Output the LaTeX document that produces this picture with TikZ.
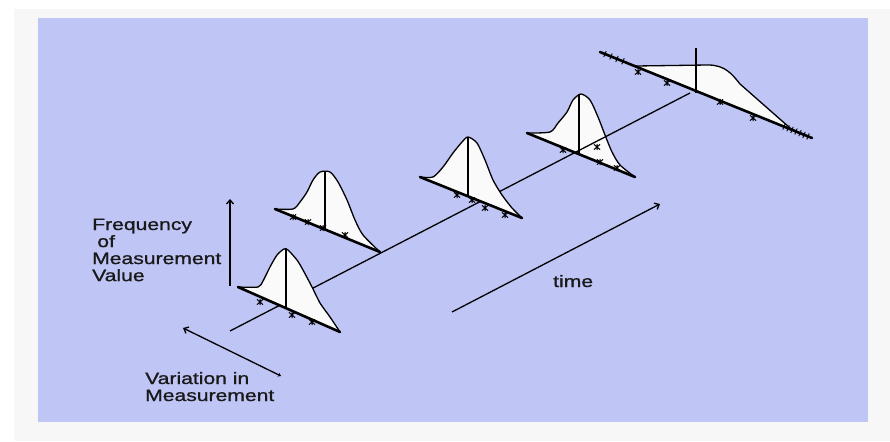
\documentclass[tikz,border=0pt]{standalone}
\usepackage{fontspec}
\usepackage{graphicx}
\setmainfont{Liberation Sans}
\newfontfamily\lblfont[FakeBold=0.9]{Liberation Sans}
\usetikzlibrary{arrows.meta}
\definecolor{bgblue}{RGB}{191,197,245}
\definecolor{outergray}{RGB}{247,247,247}
\definecolor{distfill}{RGB}{250,250,250}
\tikzset{
  curve/.style={draw=black, line width=1.3pt, line join=round},
  basel/.style={draw=black, line width=2.6pt, line cap=round},
  vline/.style={draw=black, line width=1.2pt},
  axisline/.style={draw=black, line width=1.3pt},
  arr/.style={draw=black, line width=1.3pt, -{Straight Barb[length=4pt,width=7pt]}},
  tickl/.style={draw=black, line width=0.9pt},
  lbl/.style={font=\lblfont\fontsize{16.5}{17}\selectfont, inner sep=0pt, anchor=base west, text=black!90},
  xm/.pic={\draw[line width=1pt] (-3,-2.6)--(3,2.6) (-3,2.6)--(3,-2.6) (0,-3)--(0,3);}
}
\begin{document}
\begin{tikzpicture}[x=1pt,y=-1pt]
\useasboundingbox (0,0) rectangle (890,441);
\fill[white] (0,0) rectangle (890,441);
\fill[outergray] (14,9) rectangle (890,441);
\fill[bgblue] (38,18) rectangle (868,422);

% ---------- distribution 5 (far, flat) ----------
\fill[distfill] (636,66) -- (708,65) .. controls (725,65) and (732,74) .. (740,84) -- (790,128) -- (803,135) -- cycle;
\draw[curve] (636,66) -- (708,65) .. controls (725,65) and (732,74) .. (740,84) -- (790,128) -- (803,135);
\draw[basel] (600,52) -- (812,138);
\draw[vline] (696,48) -- (696,93);
\foreach \x/\y in {784/126.6,788/128.3,792/129.9,796/131.5,800/133.1,804/134.9,808/136.4,605/54.0,611/56.5,617/58.9,623/61.3}
  \draw[tickl] (\x-1.2,\y+3) -- (\x+1.2,\y-3);
\foreach \x/\y in {638/72,667/83,720/102,753/118} \pic at (\x,\y) {xm};

% ---------- distribution 4 ----------
\fill[distfill] plot[smooth,tension=0.45] coordinates {(527,133)(550,132)(558,123)(567,112)(573,100)(581,94)(590,100)(598,117)(605,135)(612,152)(620,165)(635,177)} -- cycle;
\draw[curve] plot[smooth,tension=0.45] coordinates {(527,133)(550,132)(558,123)(567,112)(573,100)(581,94)(590,100)(598,117)(605,135)(612,152)(620,165)(635,177)};
\draw[basel] (527,133) -- (635,177);
\draw[vline] (579,94) -- (579,153);
\foreach \x/\y in {563/150,597/147,600/162,617/168} \pic at (\x,\y) {xm};

% ---------- time axis ----------
\coordinate (ax0) at (230,331);
\coordinate (ax1) at (690,93);
\draw[axisline] (ax0) -- (ax1);

% ---------- distribution 3 ----------
\fill[distfill] plot[smooth,tension=0.45] coordinates {(420,177)(433,177)(443,167)(453,153)(462,142)(468,137)(477,143)(485,160)(493,180)(502,195)(512,208)(522,218)} -- cycle;
\draw[curve] plot[smooth,tension=0.45] coordinates {(420,177)(433,177)(443,167)(453,153)(462,142)(468,137)(477,143)(485,160)(493,180)(502,195)(512,208)(522,218)};
\draw[basel] (420,177) -- (522,218);
\draw[vline] (468,137) -- (468,196);
\foreach \x/\y in {457/195,472/200,485/208,505/215} \pic at (\x,\y) {xm};

% ---------- distribution 2 ----------
\fill[distfill] plot[smooth,tension=0.45] coordinates {(275,209)(293,209)(300,202)(307,192)(313,180)(320,172)(330,172)(338,182)(347,200)(355,220)(363,235)(380,252)} -- cycle;
\draw[curve] plot[smooth,tension=0.45] coordinates {(275,209)(293,209)(300,202)(307,192)(313,180)(320,172)(330,172)(338,182)(347,200)(355,220)(363,235)(380,252)};
\draw[basel] (275,209) -- (380,252);
\draw[vline] (325,172) -- (325,230);
\foreach \x/\y in {293/217,308/222,323/228,345/235} \pic at (\x,\y) {xm};

% ---------- distribution 1 ----------
\fill[distfill] plot[smooth,tension=0.45] coordinates {(238,287)(258,287)(263,281)(270,267)(277,255)(284,249)(288,250)(297,260)(303,270)(312,287)(320,303)(330,317)(340,332)} -- cycle;
\draw[curve] plot[smooth,tension=0.45] coordinates {(238,287)(258,287)(263,281)(270,267)(277,255)(284,249)(288,250)(297,260)(303,270)(312,287)(320,303)(330,317)(340,332)};
\draw[basel] (238,287) -- (340,332);
\draw[vline] (286,249) -- (286,309);
\foreach \x/\y in {260/302,292/315,312/322} \pic at (\x,\y) {xm};

% ---------- arrows ----------
\coordinate (fA) at (230,286);
\coordinate (fB) at (230,199);
\draw[arr] (fA) -- (fB);
\coordinate (tA) at (452,312);
\coordinate (tB) at (660,204);
\draw[arr] (tA) -- (tB);
\coordinate (vA) at (281,376);
\coordinate (vB) at (183,328);
\draw[draw=black, line width=1.3pt, {Straight Barb[length=4pt,width=7pt]}-{Stealth[length=3pt,width=4pt]}] (vB) -- (vA);

% ---------- labels ----------
\node[lbl] (freq) at (92,230) {\scalebox{1.28}[1]{\begin{tabular}[t]{@{}l@{}}Frequency\\\hspace*{4pt}of\\Measurement\\Value\end{tabular}}};
\node[lbl] (time) at (553,287) {\scalebox{1.28}[1]{time}};
\node[lbl] (vari) at (145,384) {\scalebox{1.28}[1]{\begin{tabular}[t]{@{}l@{}}Variation in\\Measurement\end{tabular}}};
\end{tikzpicture}
\end{document}
